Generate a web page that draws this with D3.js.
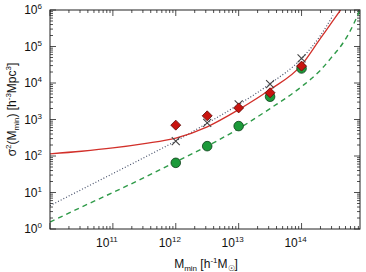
<!DOCTYPE html>
<html>
  <head>
    <meta charset="utf-8">
    <title></title>
  </head>
  <style>
  body{ margin:0; font-family: "Liberation Sans", Arial, sans-serif; background:#fff; }
  </style>
  <script src="https://d3js.org/d3.v7.min.js"></script>
  <body>
    <script>
    // data (log10 values)
    var massPoints = [1e12, 3.16e12, 1e13, 3.16e13, 1e14]
    var simCircles = [65, 186, 660, 4200, 25000]
    var simDiamonds = [700, 1260, 2080, 5400, 29000]
    var simCrosses = [255, 810, 2580, 9300, 47000]

    var curveMass = [10, 10.5, 11, 11.5, 12, 12.5, 13, 13.5, 14, 14.3, 14.5, 14.62, 14.75, 14.93]
    var redCurve = [2.06, 2.13, 2.22, 2.34, 2.49, 2.8, 3.27, 3.82, 4.49, 5.22, 5.71, 6.0, null, null]
    var dottedCurve = [0.64, 1.08, 1.52, 1.96, 2.41, 2.9, 3.41, 3.98, 4.67, 5.3, 5.85, null, null, null]
    var greenCurve = [0.19, 0.6, 1.0, 1.41, 1.84, 2.27, 2.75, 3.3, 3.9, 4.35, 4.75, 5.0, 5.35, 6.0]

    var xTicks = [1e11, 1e12, 1e13, 1e14]
    var yTicks = [1, 10, 100, 1e3, 1e4, 1e5, 1e6]

    var W = 366, H = 272
    var margin = { left:50, top:10, right:6, bottom:43 }
    var width = W - margin.left - margin.right
    var height = H - margin.top - margin.bottom

    var svg = d3.select("body").append("svg")
                .attr("width", W).attr("height", H)
    var g = svg.append("g").attr("transform", "translate(" + margin.left + "," + margin.top + ")")

    var xScale = d3.scaleLog().domain([1e10, 8.5e14]).range([0, width])
    var yScale = d3.scaleLog().domain([1, 1e6]).range([height, 0])

    // minor ticks
    function minors(lo, hi){
      var out = []
      for (var e = lo; e < hi; e++) for (var k = 2; k <= 9; k++) out.push(k * Math.pow(10, e))
      return out
    }
    var xMinor = minors(10, 15).filter(function(v){ return v < 8.5e14 })
    var yMinor = minors(0, 6)

    var tickG = g.append("g").attr("stroke", "#222").attr("stroke-width", 0.8)
    function addTicks(vals, len){
      vals.forEach(function(v){
        var x = xScale(v)
        tickG.append("line").attr("x1", x).attr("x2", x).attr("y1", height).attr("y2", height - len)
        tickG.append("line").attr("x1", x).attr("x2", x).attr("y1", 0).attr("y2", len)
      })
    }
    function addYTicks(vals, len){
      vals.forEach(function(v){
        var y = yScale(v)
        tickG.append("line").attr("y1", y).attr("y2", y).attr("x1", 0).attr("x2", len)
        tickG.append("line").attr("y1", y).attr("y2", y).attr("x1", width).attr("x2", width - len)
      })
    }
    addTicks(xMinor, 3); addTicks(xTicks.concat([1e10]), 6)
    addYTicks(yMinor, 3); addYTicks(yTicks, 6)

    // curves
    var clip = svg.append("defs").append("clipPath").attr("id", "clip")
    clip.append("rect").attr("width", width).attr("height", height)
    var lines = g.append("g").attr("clip-path", "url(#clip)")

    function curveData(arr){
      return curveMass.map(function(m, i){ return [Math.pow(10, m), arr[i] == null ? null : Math.pow(10, arr[i])] })
                      .filter(function(d){ return d[1] != null })
    }
    var line = d3.line().curve(d3.curveMonotoneX)
                 .x(function(d){ return xScale(d[0]) })
                 .y(function(d){ return yScale(d[1]) })

    lines.append("path").datum(curveData(greenCurve)).attr("d", line)
         .attr("fill", "none").attr("stroke", "#2e9a48").attr("stroke-width", 1.4).attr("stroke-dasharray", "5,4")
    lines.append("path").datum(curveData(dottedCurve)).attr("d", line)
         .attr("fill", "none").attr("stroke", "#46506a").attr("stroke-width", 1.2).attr("stroke-dasharray", "1,2")
    lines.append("path").datum(curveData(redCurve)).attr("d", line)
         .attr("fill", "none").attr("stroke", "#d2302a").attr("stroke-width", 1.3)

    // markers
    g.append("g").selectAll("circle").data(massPoints).enter().append("circle")
      .attr("cx", function(d){ return xScale(d) })
      .attr("cy", function(d, i){ return yScale(simCircles[i]) })
      .attr("r", 4.8).attr("fill", "#1c9a3a").attr("stroke", "#0d3d18").attr("stroke-width", 0.8)

    g.append("g").selectAll("path").data(massPoints).enter().append("path")
      .attr("transform", function(d, i){ return "translate(" + xScale(d) + "," + yScale(simCrosses[i]) + ")" })
      .attr("d", "M-4,-4L4,4M-4,4L4,-4")
      .attr("stroke", "#444").attr("stroke-width", 1.1).attr("fill", "none")

    g.append("g").selectAll("path").data(massPoints).enter().append("path")
      .attr("transform", function(d, i){ return "translate(" + xScale(d) + "," + yScale(simDiamonds[i]) + ")" })
      .attr("d", "M0,-5L5,0L0,5L-5,0Z")
      .attr("fill", "#c8140f").attr("stroke", "#5a0a08").attr("stroke-width", 0.8)

    // frame
    g.append("rect").attr("width", width).attr("height", height)
     .attr("fill", "none").attr("stroke", "#222").attr("stroke-width", 1)

    // tick labels
    xTicks.forEach(function(v){
      var t = g.append("text").attr("x", xScale(v) - 6).attr("y", height + 18)
               .attr("text-anchor", "middle").attr("font-size", 12).attr("fill", "#111")
      t.append("tspan").text("10")
      t.append("tspan").attr("dy", -5).attr("font-size", 8).text(Math.round(Math.log10(v)))
    })
    yTicks.forEach(function(v){
      var t = g.append("text").attr("x", -8).attr("y", yScale(v) + 4)
               .attr("text-anchor", "end").attr("font-size", 12).attr("fill", "#111")
      t.append("tspan").text("10")
      t.append("tspan").attr("dy", -5).attr("font-size", 8).text(Math.round(Math.log10(v)))
    })

    // axis titles
    var xt = svg.append("text").attr("x", margin.left + 156).attr("y", 268)
                .attr("text-anchor", "middle").attr("font-size", 12).attr("fill", "#111")
    xt.append("tspan").text("M")
    xt.append("tspan").attr("dy", 3).attr("font-size", 8).text("min")
    xt.append("tspan").attr("dy", -3).text(" [h")
    xt.append("tspan").attr("dy", -5).attr("font-size", 8).text("-1")
    xt.append("tspan").attr("dy", 5).text("M")
    xt.append("tspan").attr("dy", 3).attr("font-size", 8).text("☉")
    xt.append("tspan").attr("dy", -3).text("]")

    var yt = svg.append("text").attr("transform", "translate(16," + (margin.top + height / 2 - 10) + ") rotate(-90)")
                .attr("text-anchor", "middle").attr("font-size", 12).attr("fill", "#111")
    yt.append("tspan").text("σ")
    yt.append("tspan").attr("dy", -5).attr("font-size", 8).text("2")
    yt.append("tspan").attr("dy", 5).text("(M")
    yt.append("tspan").attr("dy", 3).attr("font-size", 8).text("min")
    yt.append("tspan").attr("dy", -3).text(") [h")
    yt.append("tspan").attr("dy", -5).attr("font-size", 8).text("-3")
    yt.append("tspan").attr("dy", 5).text("Mpc")
    yt.append("tspan").attr("dy", -5).attr("font-size", 8).text("3")
    yt.append("tspan").attr("dy", 5).text("]")
    </script>
  </body>
</html>
